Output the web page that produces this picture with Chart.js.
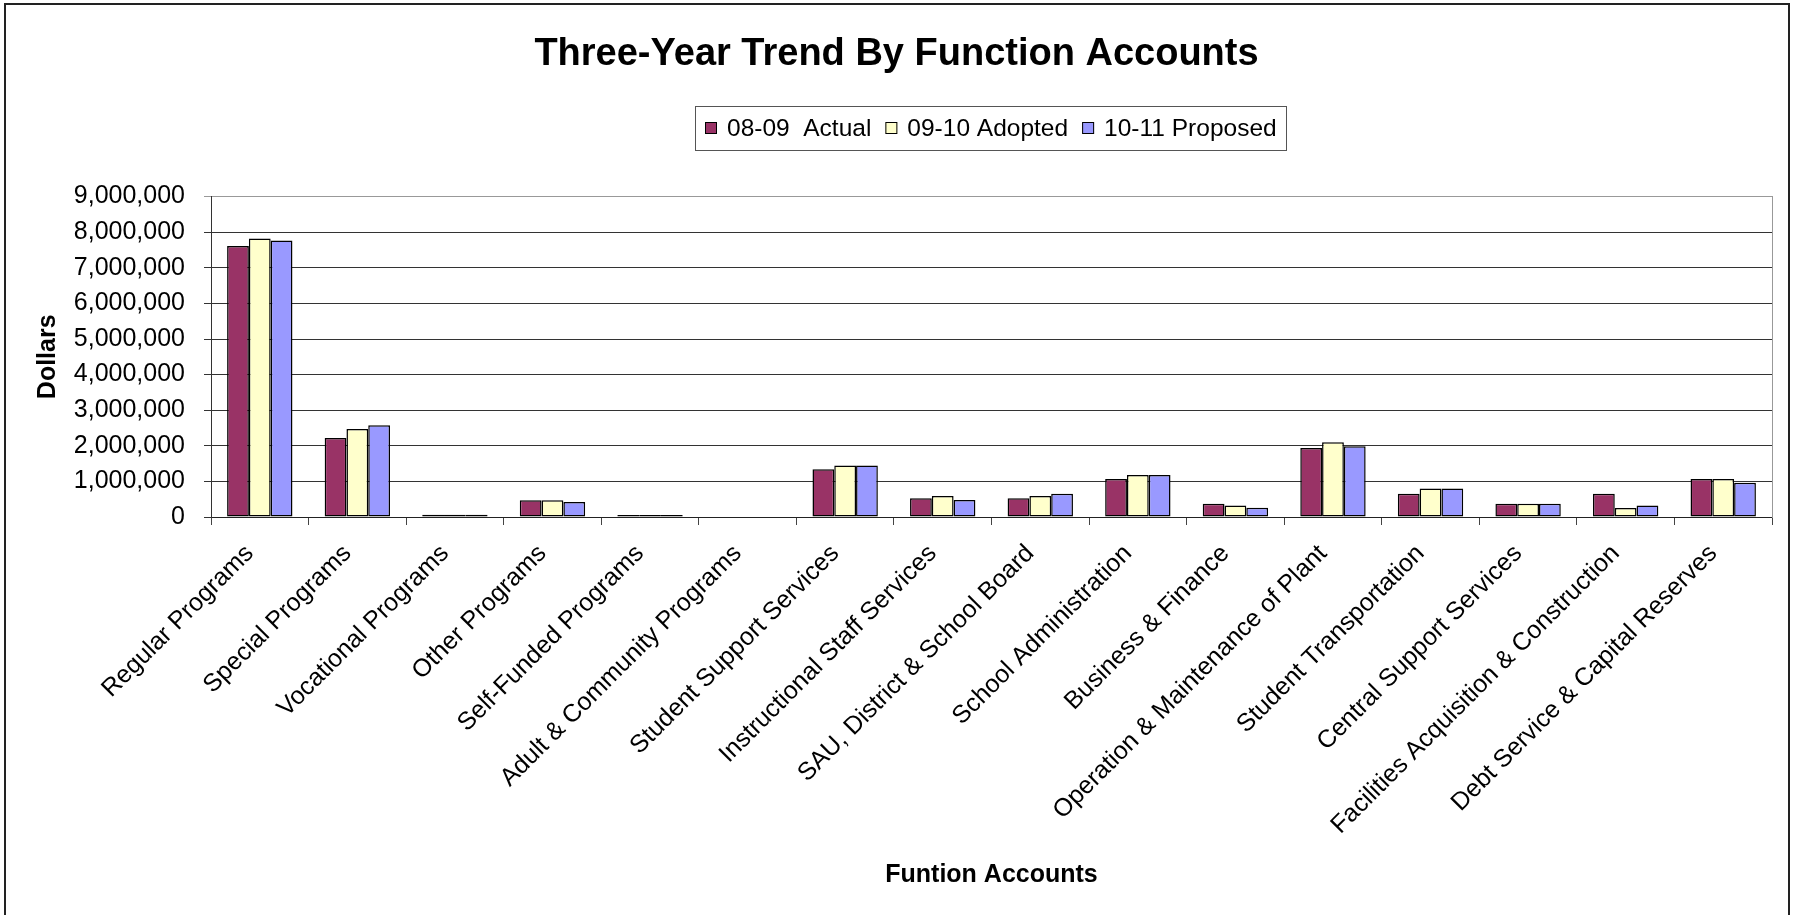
<!DOCTYPE html>
<html>
<head>
<meta charset="utf-8">
<title>Three-Year Trend By Function Accounts</title>
<script src="https://cdn.jsdelivr.net/npm/chart.js@4.4.0/dist/chart.umd.min.js"></script>
<style>
  html, body { margin: 0; padding: 0; background: #fff; }
</style>
</head>
<body>
<canvas id="trendChart" width="1793" height="915"></canvas>
<script>
const functionAccounts = [
  'Regular Programs', 'Special Programs', 'Vocational Programs', 'Other Programs',
  'Self-Funded Programs', 'Adult & Community Programs', 'Student Support Services',
  'Instructional Staff Services', 'SAU, District & School Board', 'School Administration',
  'Business & Finance', 'Operation & Maintenance of Plant', 'Student Transportation',
  'Central Support Services', 'Facilities Acquisition & Construction',
  'Debt Service & Capital Reserves'
];
const actual0809 = [7610000, 2220000, 60000, 470000, 55000, 0, 1340000, 525000,
  525000, 1070000, 375000, 1940000, 650000, 375000, 650000, 1070000];
const adopted0910 = [7820000, 2470000, 60000, 470000, 55000, 0, 1450000, 590000,
  590000, 1180000, 320000, 2100000, 800000, 375000, 250000, 1070000];
const proposed1011 = [7770000, 2580000, 60000, 420000, 55000, 0, 1450000, 480000,
  650000, 1180000, 260000, 1990000, 800000, 375000, 320000, 965000];

const seriesNames = ['08-09  Actual', '09-10 Adopted', '10-11 Proposed'];
const seriesColors = ['#993366', '#FFFFCC', '#9999FF'];

const FONT = 'Arial, "Liberation Sans", sans-serif';
Chart.defaults.font.family = FONT;
Chart.defaults.color = '#000';

// legend in a framed box + outer chart frame
const boxLegend = {
  id: 'boxLegend',
  afterDraw(chart) {
    const ctx = chart.ctx;
    ctx.save();
    ctx.lineWidth = 1;
    ctx.strokeStyle = '#555';
    ctx.strokeRect(695.5, 106.5, 591, 44);
    ctx.font = '24.5px ' + FONT;
    ctx.textBaseline = 'middle';
    let x = 705;
    chart.data.datasets.forEach(ds => {
      ctx.fillStyle = ds.backgroundColor;
      ctx.fillRect(x, 122, 12, 12);
      ctx.strokeStyle = '#000';
      ctx.strokeRect(x + 0.5, 122.5, 11, 11);
      ctx.fillStyle = '#000';
      ctx.fillText(ds.label, x + 22, 129);
      x += 22 + ctx.measureText(ds.label).width + 14;
    });
    ctx.strokeStyle = '#222';
    ctx.lineWidth = 2;
    ctx.beginPath();
    ctx.moveTo(5, 915);
    ctx.lineTo(5, 4);
    ctx.lineTo(1789, 4);
    ctx.lineTo(1789, 915);
    ctx.stroke();
    ctx.restore();
  }
};

const datasets = [actual0809, adopted0910, proposed1011].map((vals, i) => ({
  label: seriesNames[i],
  data: vals,
  backgroundColor: seriesColors[i],
  borderColor: '#000',
  borderWidth: 1.5,
  borderSkipped: false,
  categoryPercentage: 0.67,
  barPercentage: 1.0
}));

new Chart(document.getElementById('trendChart'), {
  type: 'bar',
  data: { labels: functionAccounts, datasets: datasets },
  plugins: [boxLegend],
  options: {
    responsive: false,
    animation: false,
    layout: { padding: 0 },
    plugins: {
      legend: { display: false },
      tooltip: { enabled: false },
      title: {
        display: true,
        text: 'Three-Year Trend By Function Accounts',
        color: '#000',
        font: { size: 38, weight: 'bold' },
        padding: { top: 32, bottom: 119 }
      }
    },
    scales: {
      x: {
        grid: { drawOnChartArea: false, offset: true, tickLength: 8, color: '#444' },
        border: { color: '#222', width: 1 },
        ticks: {
          autoSkip: false, minRotation: 45, maxRotation: 45,
          font: { size: 25 }, padding: 14, labelOffset: -10
        },
        title: {
          display: true, text: 'Funtion Accounts',
          font: { size: 25, weight: 'bold' },
          padding: { top: 0, bottom: 25 }
        },
        afterFit(s) { s.height = 398; }
      },
      y: {
        min: 0, max: 9000000,
        ticks: {
          stepSize: 1000000, font: { size: 25 }, padding: 19,
          callback: v => v.toLocaleString('en-US')
        },
        grid: {
          tickLength: 7,
          color: c => (c.tick && c.tick.value === 9000000 ? '#999' : '#333')
        },
        border: { color: '#333', width: 1 },
        title: {
          display: true, text: 'Dollars',
          font: { size: 25, weight: 'bold' },
          padding: { top: 33, bottom: 0 }
        },
        afterFit(s) { s.width = 211; }
      },
      y2: {
        position: 'right',
        display: true,
        grid: { drawOnChartArea: false, drawTicks: false },
        ticks: { display: false },
        border: { color: '#999', width: 1 },
        afterFit(s) { s.width = 21; }
      }
    }
  }
});
</script>
</body>
</html>
